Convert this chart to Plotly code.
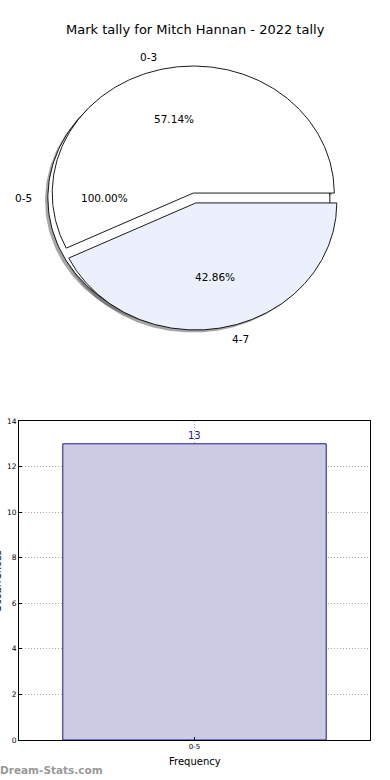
import numpy as np
import plotly.graph_objects as go

# ---------------- data ----------------
title_text = "Mark tally for Mitch Hannan - 2022 tally"
inner_labels = ["0-5"]
inner_values = [13]
outer_labels = ["0-3", "4-7"]
outer_values = [4, 3]
outer_colors = ["#FFFFFF", "#EBF0FC"]
inner_colors = ["#FFFFFF"]
bar_categories = ["0-5"]
bar_values = [13]
y_ticks = [0, 2, 4, 6, 8, 10, 12, 14]

W, H = 390, 780
FONT = "DejaVu Sans"

# pie geometry (pixels)
CX, CY = 194.5, 198.0
RX, RY = 141.0, 127.0
EXPLODE = 0.04
SHADOW = 0.02

fig = go.Figure()

x2_range = [-CX / RX, (W - CX) / RX]
y2_range = [-(390 - CY) / RY, CY / RY]


def wedge(cx, cy, t1, t2, full=False):
    th = np.radians(np.linspace(t1, t2, 241))
    xs = cx + np.cos(th)
    ys = cy + np.sin(th)
    if full:
        return list(xs), list(ys)
    return [cx] + list(xs) + [cx], [cy] + list(ys) + [cy]


def build(values, labels, colors):
    total = float(sum(values))
    out = []
    t = 0.0
    for v, lab, col in zip(values, labels, colors):
        frac = v / total
        t1, t2 = t * 360, (t + frac) * 360
        tm = np.radians((t1 + t2) / 2)
        cx = EXPLODE * np.cos(tm)
        cy = EXPLODE * np.sin(tm)
        out.append(dict(t1=t1, t2=t2, tm=tm, cx=cx, cy=cy, frac=frac,
                        label=lab, color=col, full=frac >= 0.9999))
        t += frac
    return out


inner = build(inner_values, inner_labels, inner_colors)
outer = build(outer_values, outer_labels, outer_colors)
all_w = inner + outer

# shadows (behind all wedges)
for w in all_w:
    xs, ys = wedge(w["cx"] - SHADOW, w["cy"] - SHADOW, w["t1"], w["t2"], w["full"])
    fig.add_trace(go.Scatter(x=xs, y=ys, xaxis="x2", yaxis="y2", mode="lines",
                             fill="toself", fillcolor="rgba(77,77,77,0.5)",
                             line=dict(width=0), hoverinfo="skip", showlegend=False))
# wedges
for w in all_w:
    xs, ys = wedge(w["cx"], w["cy"], w["t1"], w["t2"], w["full"])
    fig.add_trace(go.Scatter(x=xs, y=ys, xaxis="x2", yaxis="y2", mode="lines",
                             fill="toself", fillcolor=w["color"],
                             line=dict(color="black", width=0.9),
                             hoverinfo="text", text=w["label"], showlegend=False))

annotations = []
for w in all_w:
    lx = w["cx"] + 1.1 * np.cos(w["tm"])
    ly = w["cy"] + 1.1 * np.sin(w["tm"])
    annotations.append(dict(x=lx, y=ly, xref="x2", yref="y2", text=w["label"],
                            showarrow=False, xanchor="left" if lx > 0 else "right",
                            yanchor="middle", font=dict(family=FONT, size=10.5, color="black")))
    px = w["cx"] + 0.6 * np.cos(w["tm"])
    py = w["cy"] + 0.6 * np.sin(w["tm"])
    annotations.append(dict(x=px, y=py, xref="x2", yref="y2", text=f"{w['frac']*100:.2f}%",
                            showarrow=False, xanchor="center", yanchor="middle",
                            font=dict(family=FONT, size=10.5, color="black")))

# title
annotations.append(dict(x=195 / W, y=1 - 30 / H, xref="paper", yref="paper", text=title_text,
                        showarrow=False, xanchor="center", yanchor="middle",
                        font=dict(family=FONT, size=13, color="black")))

# ---------------- bar chart ----------------
fig.add_trace(go.Bar(x=bar_categories, y=bar_values, width=0.8,
                     marker=dict(color="#CCCCE4", line=dict(color="#1A1A8C", width=1)),
                     showlegend=False, hoverinfo="x+y"))
for c, v in zip(bar_categories, bar_values):
    annotations.append(dict(x=c, y=v, xref="x", yref="y", text=str(v), showarrow=False,
                            xanchor="center", yanchor="bottom", yshift=1,
                            font=dict(family=FONT, size=10, color="#1A1A8C")))

annotations.append(dict(x=194.5 / W, y=1 - 761 / H, xref="paper", yref="paper", text="Frequency",
                        showarrow=False, xanchor="center", yanchor="middle",
                        font=dict(family=FONT, size=10, color="black")))
annotations.append(dict(x=-3.5 / W, y=1 - 582 / H, xref="paper", yref="paper", text="Occurrences",
                        showarrow=False, xanchor="center", yanchor="middle", textangle=-90,
                        font=dict(family=FONT, size=10, color="black")))
annotations.append(dict(x=-2 / W, y=1 - 770 / H, xref="paper", yref="paper", text="<b>Dream-Stats.com</b>",
                        showarrow=False, xanchor="left", yanchor="middle",
                        font=dict(family=FONT, size=10.5, color="#999999")))

fig.update_layout(
    width=W, height=H,
    margin=dict(l=0, r=0, t=0, b=0, autoexpand=False),
    paper_bgcolor="white", plot_bgcolor="white",
    showlegend=False,
    annotations=annotations,
    xaxis2=dict(domain=[0, 1], range=x2_range, visible=False, fixedrange=True),
    yaxis2=dict(domain=[0.5, 1], range=y2_range, visible=False, fixedrange=True),
    xaxis=dict(domain=[19 / W, 370 / W], range=[-0.533, 0.533], type="category",
               showline=True, mirror=True, linecolor="black", linewidth=1,
               showgrid=True, gridcolor="#A8A8A8", griddash="1px,2px", gridwidth=1,
               ticks="inside", ticklen=3, tickcolor="black",
               tickfont=dict(family=FONT, size=7, color="black"), fixedrange=True),
    yaxis=dict(domain=[1 - 740 / H, 1 - 421 / H], range=[0, 14], tickvals=y_ticks,
               showline=True, mirror=True, linecolor="black", linewidth=1,
               showgrid=True, gridcolor="#A8A8A8", griddash="1px,2px", gridwidth=1,
               zeroline=False, ticks="inside", ticklen=3, tickcolor="black",
               tickfont=dict(family=FONT, size=7.5, color="black"), fixedrange=True),
)

fig.write_html("out.html", config={"displayModeBar": False},
               post_script="document.body.style.margin='0';document.body.style.overflow='hidden';")
